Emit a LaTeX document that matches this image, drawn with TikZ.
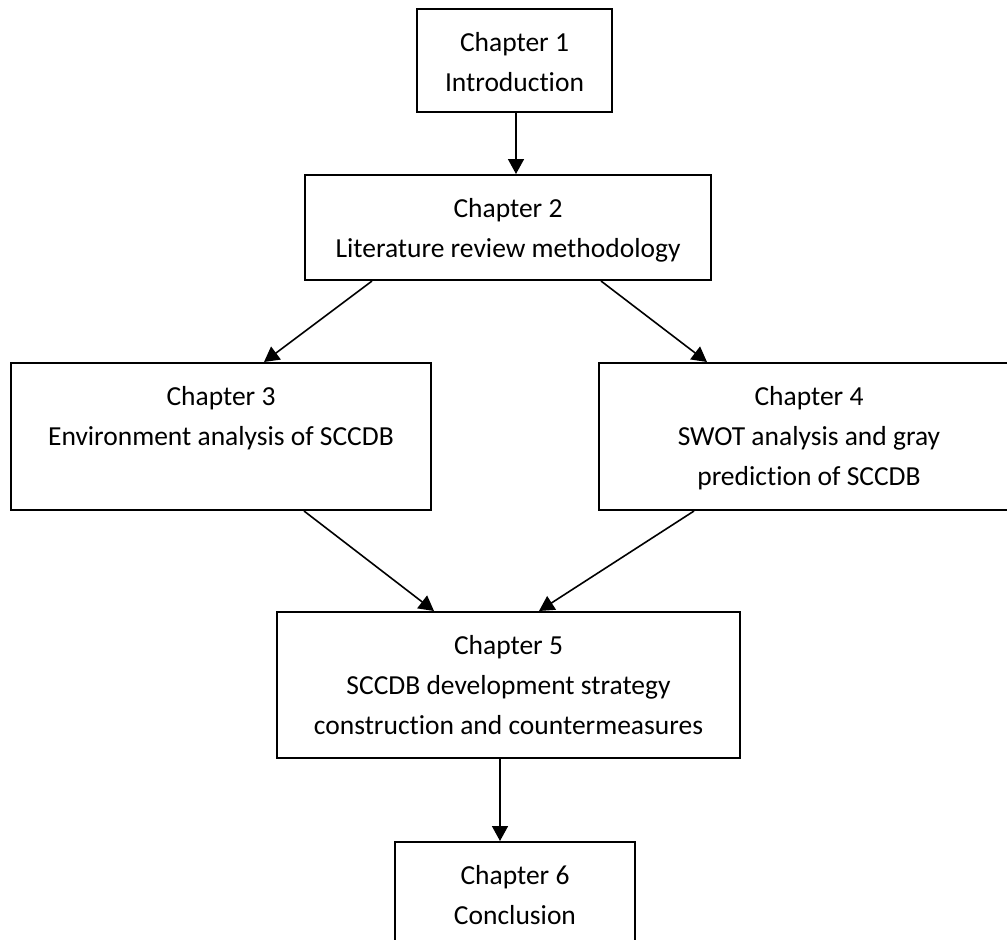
\documentclass[tikz,border=0pt]{standalone}
\usepackage{fontspec}
\setmainfont{Carlito}[Ligatures={NoCommon,NoRare,NoDiscretionary}]
\usetikzlibrary{arrows.meta}
\begin{document}
\begin{tikzpicture}[x=1pt,y=-1pt,
  box/.style={draw,line width=2pt,inner sep=0pt},
  lbl/.style={align=center,font=\fontsize{27.5}{40}\selectfont,inner sep=0pt,anchor=north},
  conn/.style={line width=1.6pt,-{Triangle[width=16pt,length=15pt]}}]
\useasboundingbox (0,0) rectangle (1007,940);
\clip (0,0) rectangle (1007,940);
% boxes
\node[box,minimum width=195pt,minimum height=103pt] (c1) at (514.5,60.5) {};
\node[box,minimum width=406pt,minimum height=105pt] (c2) at (508,227.5) {};
\node[box,minimum width=420pt,minimum height=147pt] (c3) at (221,436.5) {};
\node[box,minimum width=420pt,minimum height=147pt] (c4) at (809,436.5) {};
\node[box,minimum width=463pt,minimum height=146pt] (c5) at (508.5,685) {};
\node[box,minimum width=240pt,minimum height=130pt] (c6) at (515,907) {};
% texts
\node[lbl] (t1) at ([yshift=-24pt]c1.north) {Chapter 1\\Introduction};
\node[lbl] (t2) at ([yshift=-24pt]c2.north) {Chapter 2\\Literature review methodology};
\node[lbl] (t3) at ([yshift=-24pt]c3.north) {Chapter 3\\Environment analysis of SCCDB};
\node[lbl] (t4) at ([yshift=-24pt]c4.north) {Chapter 4\\SWOT analysis and gray\\prediction of SCCDB};
\node[lbl] (t5) at ([yshift=-24pt]c5.north) {Chapter 5\\SCCDB development strategy\\construction and countermeasures};
\node[lbl] (t6) at ([yshift=-24pt]c6.north) {Chapter 6\\Conclusion};
% connectors
\draw[conn] ([xshift=1.5pt]c1.south) -- ([xshift=1.5pt]c1.south |- c2.north);
\draw[conn] ([xshift=68pt]c2.south west) -- ([xshift=254pt]c3.north west);
\draw[conn] ([xshift=-111pt]c2.south east) -- ([xshift=109pt]c4.north west);
\draw[conn] ([xshift=294pt]c3.south west) -- ([xshift=158pt]c5.north west);
\draw[conn] ([xshift=96pt]c4.south west) -- ([xshift=263pt]c5.north west);
\draw[conn] ([xshift=224pt]c5.south west) -- ([xshift=224pt]c5.south west |- c6.north);
\end{tikzpicture}
\end{document}
